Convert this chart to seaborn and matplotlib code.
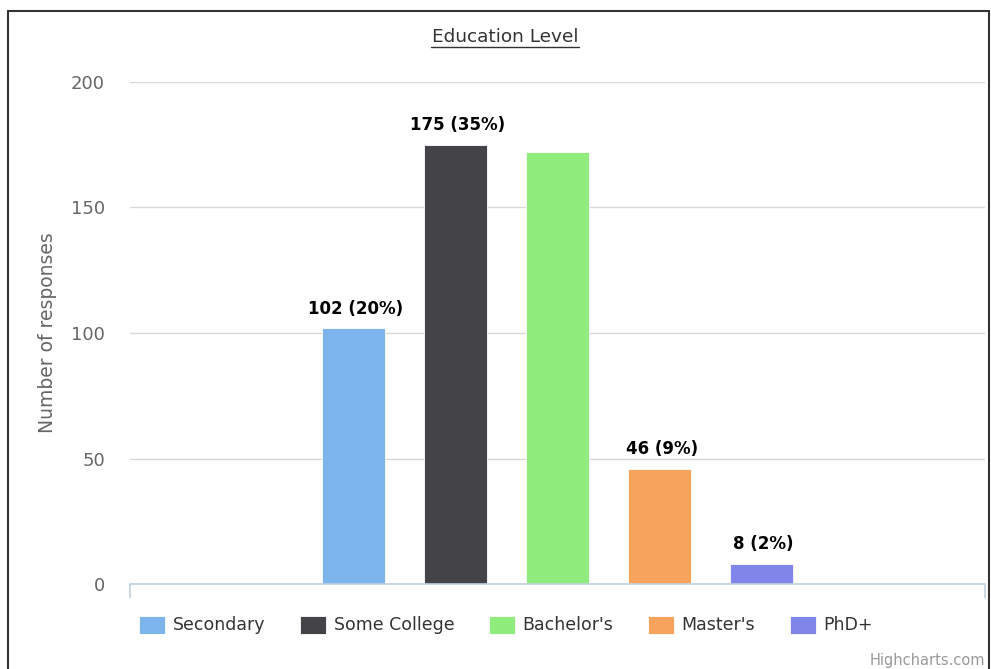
import matplotlib
matplotlib.use("Agg")
import matplotlib.pyplot as plt
from matplotlib.lines import Line2D
from matplotlib.patches import Patch
import seaborn as sns
import pandas as pd

# ---- data ----
levels = ["Secondary", "Some College", "Bachelor's", "Master's", "PhD+"]
responses = [102, 175, 172, 46, 8]
show_label = [True, True, False, True, True]
colors = ["#7CB5EC", "#434348", "#90ED7D", "#F7A35C", "#8085E9"]
y_ticks = [0, 50, 100, 150, 200]

total = sum(responses)
df = pd.DataFrame({"category": ["Education Level"] * len(levels),
                   "level": levels, "responses": responses})

sns.set_style("white")
plt.rcParams["font.family"] = ["DejaVu Sans"]

W, H = 991, 669
fig = plt.figure(figsize=(W / 100, H / 100), dpi=100)

def fx(px):
    return px / W

def fy(py):
    return 1 - py / H

ax_left, ax_right, ax_top, ax_bottom = 130, 985, 82, 584
ax = fig.add_axes([fx(ax_left), fy(ax_bottom), fx(ax_right - ax_left), (ax_bottom - ax_top) / H])

sns.barplot(data=df, x="category", y="responses", hue="level", hue_order=levels,
            palette=colors, saturation=1, width=0.5965, gap=0.38, dodge=True,
            legend=False, edgecolor="white", linewidth=0.6, ax=ax, zorder=3)

ax.set_xlim(-0.5, 0.5)
ax.set_ylim(0, 200)
ax.set_yticks(y_ticks)
ax.set_yticklabels([str(t) for t in y_ticks], color="#666666", fontsize=13)
ax.tick_params(axis="y", left=False, length=0, pad=18)
ax.set_xticks([-0.5, 0.5])
ax.set_xticklabels(["", ""])
ax.tick_params(axis="x", bottom=True, length=10, width=1.2, color="#C0D0E0",
               direction="out")
ax.set_xlabel("")
ax.set_ylabel("Number of responses", color="#666666", fontsize=13.5, labelpad=10)
ax.grid(axis="y", color="#D8D8D8", linewidth=1, zorder=0)
ax.grid(axis="x", visible=False)
for s in ["top", "right", "left"]:
    ax.spines[s].set_visible(False)
ax.spines["bottom"].set_color("#C0D0E0")
ax.spines["bottom"].set_linewidth(1.2)
ax.spines["bottom"].set_zorder(4)

# data labels
bars_sorted = sorted(ax.patches, key=lambda p: p.get_x())
for bar, v, show in zip(bars_sorted, responses, show_label):
    if not show:
        continue
    ax.annotate(f"{v} ({round(100 * v / total)}%)",
                xy=(bar.get_x() + bar.get_width() / 2, v),
                xytext=(1.5, 14), textcoords="offset points",
                ha="center", va="center", fontsize=12, fontweight="bold",
                color="#000000", zorder=5)

# legend
handles = [Patch(facecolor=c, edgecolor="white", linewidth=0.6) for c in colors]
fig.legend(handles, levels, loc="center left",
           bbox_to_anchor=(fx(139), fy(625)), ncol=5, frameon=False,
           fontsize=12.5, handlelength=1.5, handleheight=1.22,
           handletextpad=0.46, columnspacing=1.97, borderpad=0, borderaxespad=0,
           labelcolor="#333333")

# title with underline
fig.text(fx(505), fy(37), "Education Level", ha="center", va="center",
         fontsize=13.3, color="#333333")
fig.add_artist(Line2D([fx(431), fx(579)], [fy(46.5), fy(46.5)], color="#333333",
                      linewidth=1, transform=fig.transFigure))

# credit
fig.text(fx(985), fy(661), "Highcharts.com", ha="right", va="center",
         fontsize=10.5, color="#999999")

# outer border (top, left, right)
for xs, ys in [([8, 989], [11, 11]), ([8, 8], [11, 669]), ([989, 989], [11, 669])]:
    fig.add_artist(Line2D([fx(x) for x in xs], [fy(y) for y in ys], color="#333333",
                          linewidth=1.5, transform=fig.transFigure))

fig.savefig("out.png", dpi=100)
